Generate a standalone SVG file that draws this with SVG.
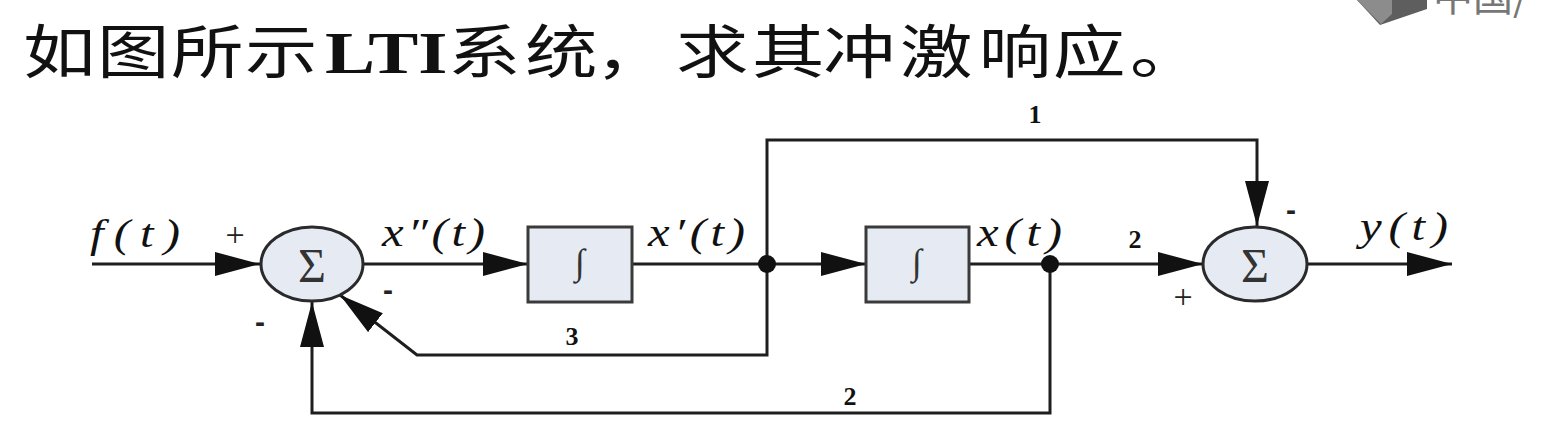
<svg xmlns="http://www.w3.org/2000/svg" width="1552" height="436" viewBox="0 0 1552 436">
<defs>
<style>
.ln{fill:none;stroke:#1e1e1e;stroke-width:3;stroke-linejoin:miter}
.ar{marker-end:url(#ah)}
.sum{fill:#e6ebf3;stroke:#2a2a2a;stroke-width:3}
.box{fill:#e6ebf3;stroke:#3a3a3a;stroke-width:3}
.math{font-family:"Liberation Serif","DejaVu Serif",serif;font-style:italic;font-size:39px;fill:#111}
.num{font-family:"Liberation Serif","DejaVu Serif",serif;font-weight:bold;font-size:26px;fill:#111;text-anchor:middle}
.sign{font-family:"Liberation Sans","DejaVu Sans",sans-serif;font-weight:bold;font-size:30px;fill:#222;text-anchor:middle}
.plus{font-family:"Liberation Serif","DejaVu Serif",serif;font-size:34px;fill:#222;text-anchor:middle}
.sym{font-family:"Liberation Serif","DejaVu Serif",serif;fill:#333;text-anchor:middle}
.title{font-family:"Noto Sans CJK SC","Liberation Serif",sans-serif;font-size:58px;fill:#111}
.lti{font-family:"Liberation Serif","DejaVu Serif",serif;font-weight:bold;font-size:60px;fill:#111}
</style>
<marker id="ah" markerUnits="userSpaceOnUse" markerWidth="46" markerHeight="26" refX="45" refY="12" orient="auto">
<path d="M0,0 L45,12 L0,24 Z" fill="#111"/>
</marker>
</defs>
<rect x="0" y="0" width="1552" height="436" fill="#ffffff"/>

<g id="watermark">
<polygon points="1357,0 1427,0 1427,9 1380,25" fill="#5e5e5e"/>
<polygon points="1357,0 1392,0 1392,14 1381,24" fill="#8c8c8c"/>
<text x="1433" y="11" font-family="Noto Sans CJK SC,sans-serif" font-size="40" fill="#777">中国/</text>
</g>

<g id="title" transform="scale(1.25,1)">
<text class="title" y="73" x="18.4 77.6 136.8 196">如图所示</text>
<text class="lti" x="260" y="73">LTI</text>
<text class="title" y="73" x="358.4 420 476 540.8 601.6 658.4 720 783 842.4 904">系统，求其冲激响应。</text>
</g>

<g id="connectors">
<line class="ln ar" x1="92" y1="264" x2="260" y2="264"/>
<line class="ln ar" x1="363" y1="264" x2="528" y2="264"/>
<line class="ln" x1="632" y1="264" x2="767" y2="264"/>
<line class="ln ar" x1="767" y1="264" x2="866" y2="264"/>
<line class="ln" x1="969" y1="264" x2="1050" y2="264"/>
<line class="ln ar" x1="1050" y1="264" x2="1203" y2="264"/>
<line class="ln ar" x1="1307" y1="264" x2="1452" y2="264"/>
<polyline class="ln ar" points="767,264 767,140 1257,140 1257,226"/>
<polyline class="ln ar" points="767,264 767,355 417,355 340,295"/>
<polyline class="ln ar" points="1050,264 1050,413 312,413 312,302"/>
<circle cx="767" cy="264" r="9" fill="#111"/>
<circle cx="1050" cy="264" r="9" fill="#111"/>
</g>

<g id="sum1">
<ellipse class="sum" cx="312" cy="264" rx="51" ry="37"/>
<text class="sym" x="312" y="282" font-size="48">Σ</text>
</g>
<g id="int1">
<rect class="box" x="528" y="227" width="104" height="75"/>
<text class="sym" x="580" y="274" font-size="36">∫</text>
</g>
<g id="int2">
<rect class="box" x="866" y="227" width="103" height="75"/>
<text class="sym" x="917" y="274" font-size="36">∫</text>
</g>
<g id="sum2">
<ellipse class="sum" cx="1255" cy="264" rx="52" ry="37"/>
<text class="sym" x="1255" y="282" font-size="48">Σ</text>
</g>

<g id="labels">
<g transform="scale(1.25,1)">
<text class="math" x="72" y="247" textLength="72" lengthAdjust="spacing">f(t)</text>
<text class="math" x="305.6" y="246" textLength="82.4" lengthAdjust="spacing">x″(t)</text>
<text class="math" x="518.4" y="246" textLength="77.6" lengthAdjust="spacing">x′(t)</text>
<text class="math" x="781.6" y="246" textLength="68" lengthAdjust="spacing">x(t)</text>
<text class="math" x="1088" y="240" textLength="70.4" lengthAdjust="spacing">y(t)</text>
</g>
<text class="plus" x="235" y="246">+</text>
<text class="sign" x="388" y="300">-</text>
<text class="sign" x="260" y="332">-</text>
<text class="sign" x="1291" y="220">-</text>
<text class="plus" x="1183" y="308">+</text>
<text class="num" x="1035" y="123">1</text>
<text class="num" x="1135" y="248">2</text>
<text class="num" x="572" y="345">3</text>
<text class="num" x="850" y="405">2</text>
</g>
</svg>
